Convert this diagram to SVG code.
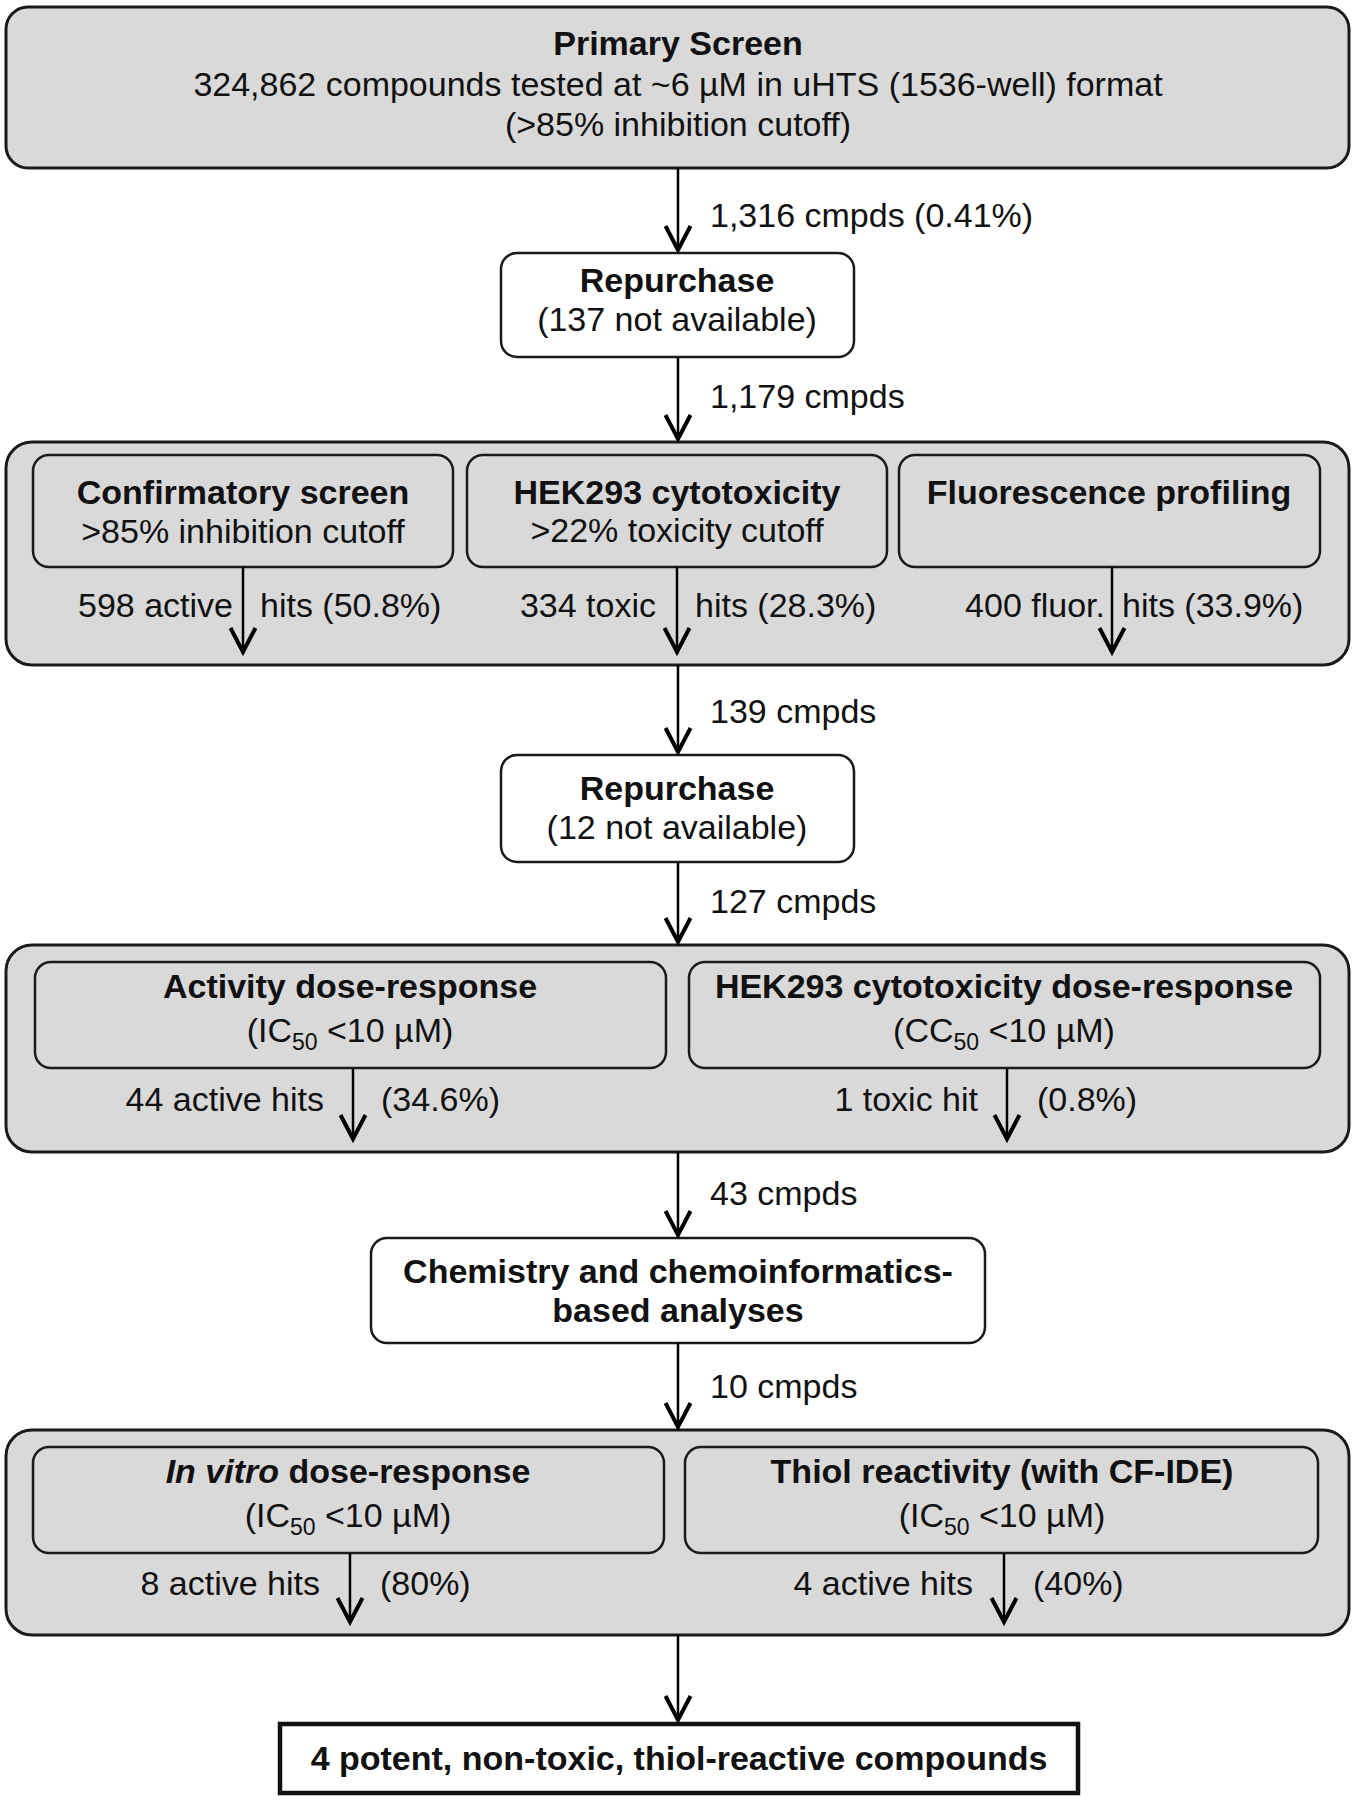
<svg xmlns="http://www.w3.org/2000/svg" width="1354" height="1800" viewBox="0 0 1354 1800">
<defs>
<style>
text{font-family:"Liberation Sans",Arial,Helvetica,sans-serif;font-size:34px;fill:#111;}
.b{font-weight:bold;}
.c{text-anchor:middle;}
.e{text-anchor:end;}
.sub{font-size:23px;}
.outer{fill:#d9d9d9;stroke:#1a1a1a;stroke-width:3;}
.inner{fill:#d9d9d9;stroke:#1a1a1a;stroke-width:2.5;}
.white{fill:#fff;stroke:#1a1a1a;stroke-width:2.5;}
.final{fill:#fff;stroke:#111;stroke-width:4.5;}
.conn{stroke:#000;stroke-width:2.5;fill:none;marker-end:url(#ah);}
</style>
<marker id="ah" markerUnits="userSpaceOnUse" markerWidth="40" markerHeight="40" viewBox="-30 -20 40 40" refX="0" refY="0" orient="auto" overflow="visible">
<path d="M-25,-12.5 L-1,0 L-25,12.5" fill="none" stroke="#000" stroke-width="4" stroke-linejoin="miter"/>
</marker>
</defs>
<rect width="1354" height="1800" fill="#fff"/>

<g id="primary">
<rect class="outer" x="6" y="7" width="1343" height="161" rx="22"/>
<text class="b c" x="678" y="55">Primary Screen</text>
<text class="c" x="678" y="96">324,862 compounds tested at ~6 µM in uHTS (1536-well) format</text>
<text class="c" x="678" y="136">(&gt;85% inhibition cutoff)</text>
</g>

<g id="repurchase1">
<rect class="white" x="501" y="253" width="353" height="104" rx="16"/>
<text class="b c" x="677" y="292">Repurchase</text>
<text class="c" x="677" y="331">(137 not available)</text>
</g>

<g id="stage2">
<rect class="outer" x="6" y="442" width="1343" height="223" rx="26"/>
</g>
<g id="confirmatory">
<rect class="inner" x="33" y="455" width="420" height="112" rx="16"/>
<text class="b c" x="243" y="504">Confirmatory screen</text>
<text class="c" x="243" y="543">&gt;85% inhibition cutoff</text>
</g>
<g id="hek293">
<rect class="inner" x="467" y="455" width="420" height="112" rx="16"/>
<text class="b c" x="677" y="504">HEK293 cytotoxicity</text>
<text class="c" x="677" y="542">&gt;22% toxicity cutoff</text>
</g>
<g id="fluorescence">
<rect class="inner" x="899" y="455" width="421" height="112" rx="16"/>
<text class="b c" x="1109" y="504">Fluorescence profiling</text>
</g>

<g id="repurchase2">
<rect class="white" x="501" y="755" width="353" height="107" rx="16"/>
<text class="b c" x="677" y="800">Repurchase</text>
<text class="c" x="677" y="839">(12 not available)</text>
</g>

<g id="stage3">
<rect class="outer" x="6" y="945" width="1343" height="207" rx="26"/>
</g>
<g id="activity">
<rect class="inner" x="35" y="962" width="631" height="106" rx="16"/>
<text class="b c" x="350" y="998">Activity dose-response</text>
<text class="c" x="350" y="1042">(IC<tspan class="sub" dy="8">50</tspan><tspan dy="-8"> &lt;10 µM)</tspan></text>
</g>
<g id="hekdose">
<rect class="inner" x="689" y="962" width="631" height="106" rx="16"/>
<text class="b c" x="1004" y="998">HEK293 cytotoxicity dose-response</text>
<text class="c" x="1004" y="1042">(CC<tspan class="sub" dy="8">50</tspan><tspan dy="-8"> &lt;10 µM)</tspan></text>
</g>

<g id="chem">
<rect class="white" x="371" y="1238" width="614" height="105" rx="16"/>
<text class="b c" x="678" y="1283">Chemistry and chemoinformatics-</text>
<text class="b c" x="678" y="1322">based analyses</text>
</g>

<g id="stage4">
<rect class="outer" x="6" y="1430" width="1343" height="205" rx="26"/>
</g>
<g id="invitro">
<rect class="inner" x="33" y="1447" width="631" height="106" rx="16"/>
<text class="b c" x="348" y="1483"><tspan font-style="italic">In vitro</tspan> dose-response</text>
<text class="c" x="348" y="1527">(IC<tspan class="sub" dy="8">50</tspan><tspan dy="-8"> &lt;10 µM)</tspan></text>
</g>
<g id="thiol">
<rect class="inner" x="685" y="1447" width="633" height="106" rx="16"/>
<text class="b c" x="1002" y="1483">Thiol reactivity (with CF-IDE)</text>
<text class="c" x="1002" y="1527">(IC<tspan class="sub" dy="8">50</tspan><tspan dy="-8"> &lt;10 µM)</tspan></text>
</g>

<g id="final">
<rect class="final" x="280" y="1724" width="798" height="69"/>
<text class="b c" x="679" y="1770">4 potent, non-toxic, thiol-reactive compounds</text>
</g>

<g id="connectors">
<line class="conn" x1="678" y1="168" x2="678" y2="251"/>
<line class="conn" x1="678" y1="357" x2="678" y2="440"/>
<line class="conn" x1="243" y1="567" x2="243" y2="653"/>
<line class="conn" x1="677" y1="567" x2="677" y2="653"/>
<line class="conn" x1="1112" y1="567" x2="1112" y2="653"/>
<line class="conn" x1="678" y1="665" x2="678" y2="753"/>
<line class="conn" x1="678" y1="862" x2="678" y2="943"/>
<line class="conn" x1="353" y1="1068" x2="353" y2="1140"/>
<line class="conn" x1="1007" y1="1068" x2="1007" y2="1140"/>
<line class="conn" x1="678" y1="1152" x2="678" y2="1236"/>
<line class="conn" x1="678" y1="1343" x2="678" y2="1428"/>
<line class="conn" x1="350" y1="1553" x2="350" y2="1623"/>
<line class="conn" x1="1004" y1="1553" x2="1004" y2="1623"/>
<line class="conn" x1="678" y1="1635" x2="678" y2="1721"/>
</g>

<g id="labels">
<text x="710" y="227">1,316 cmpds (0.41%)</text>
<text x="710" y="408">1,179 cmpds</text>
<text class="e" x="233" y="617">598 active</text>
<text x="260" y="617">hits (50.8%)</text>
<text class="e" x="656" y="617">334 toxic</text>
<text x="695" y="617">hits (28.3%)</text>
<text class="e" x="1105" y="617">400 fluor.</text>
<text x="1122" y="617">hits (33.9%)</text>
<text x="710" y="723">139 cmpds</text>
<text x="710" y="913">127 cmpds</text>
<text class="e" x="324" y="1111">44 active hits</text>
<text x="381" y="1111">(34.6%)</text>
<text class="e" x="978" y="1111">1 toxic hit</text>
<text x="1037" y="1111">(0.8%)</text>
<text x="710" y="1205">43 cmpds</text>
<text x="710" y="1398">10 cmpds</text>
<text class="e" x="320" y="1595">8 active hits</text>
<text x="380" y="1595">(80%)</text>
<text class="e" x="973" y="1595">4 active hits</text>
<text x="1033" y="1595">(40%)</text>
</g>
</svg>
